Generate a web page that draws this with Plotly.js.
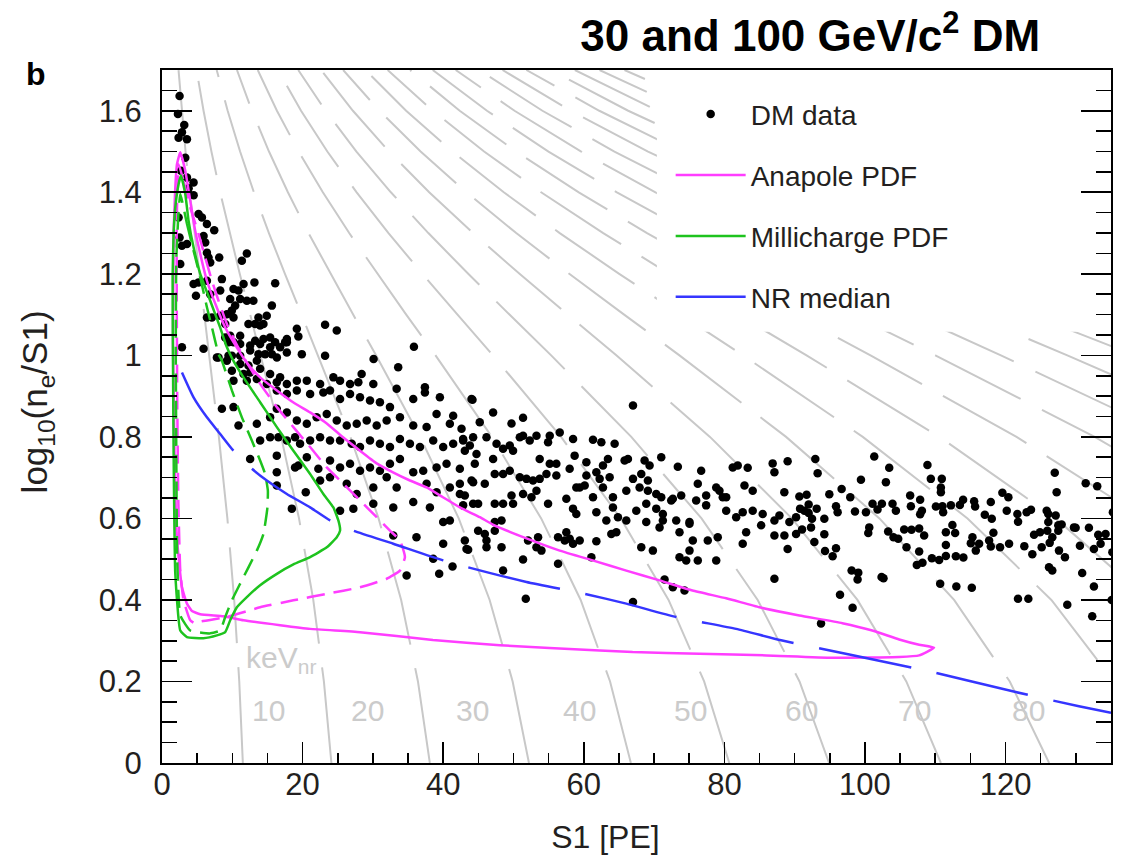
<!DOCTYPE html>
<html><head><meta charset="utf-8">
<script src="https://cdn.plot.ly/plotly-3.0.1.min.js"></script>
<style>html,body{margin:0;padding:0;background:#fff;}#plot{width:1133px;height:858px;}</style>
</head><body><div id="plot"></div>
<script>
// ---- DM data points (S1 [PE], log10(ne/S1)) ----
const dmS1 = [
2.5,2.27,3.17,2.84,2.36,3.55,3.31,2.7,3.55,4.49,
3.79,4.5,2.36,5.2,5.68,6.39,7.43,2.5,3.55,2.84,
5.91,6.15,6.39,6.62,6.86,8.14,12.07,11.36,2.6,4.49,
5.2,6.39,8.52,13.15,16.1,4.83,6.86,8.28,10.17,10.88,
11.6,12.07,13.0,11.12,9.7,10.41,9.94,9.23,6.39,7.1,
8.28,10.17,9.0,15.63,14.9,13.72,12.3,13.25,13.96,14.43,
23.2,24.86,19.18,19.4,17.76,17.51,8.99,9.7,11.12,10.17,
13.25,14.43,15.38,16.09,16.8,19.89,23.2,30.1,35.84,2.84,
5.91,7.81,9.46,11.12,12.54,13.72,14.67,15.63,16.34,9.46,
11.12,12.54,13.96,15.38,17.76,8.04,9.23,9.94,11.12,12.3,
13.49,17.76,28.4,33.6,9.94,11.6,12.54,13.96,15.38,16.8,
10.17,12.07,13.49,14.91,16.33,17.76,19.18,20.6,22.49,24.38,
25.33,26.75,27.93,30.06,33.38,37.4,16.33,17.76,19.18,21.07,
22.95,23.9,25.33,26.75,28.17,29.59,31.0,32.43,35.74,37.4,
39.53,41.42,44.03,8.52,10.17,10.88,13.49,15.38,16.33,17.76,
19.18,20.6,22.0,23.44,24.86,26.28,27.7,29.12,30.54,31.96,
33.85,35.74,37.64,39.06,40.95,42.61,13.96,15.38,16.56,17.76,
18.93,19.64,21.07,22.49,23.9,25.33,26.99,28.17,29.59,31.0,
32.43,33.85,35.27,36.69,38.58,40.0,41.42,42.84,44.26,12.54,
16.33,18.93,19.4,20.6,22.24,23.9,25.33,26.75,28.17,29.59,
31.0,32.43,33.85,35.74,37.16,39.06,40.48,42.37,44.5,16.33,
20.45,22.49,23.9,26.28,27.7,30.06,31.96,33.38,37.64,39.06,
40.95,42.37,44.03,18.47,25.33,27.22,30.06,32.9,35.74,38.11,
40.0,40.95,42.84,44.26,16.33,32.9,34.8,36.2,38.58,40.0,
41.33,39.43,43.08,43.32,44.17,47.1,49.72,51.36,67.0,45.2,
42.84,46.16,47.59,49.47,50.9,51.36,52.31,53.27,55.16,54.92,
56.58,58.48,61.31,62.5,64.39,43.08,43.79,44.74,47.1,48.52,
49.94,53.73,55.16,56.1,57.99,58.7,60.37,62.73,63.44,65.81,
66.28,68.65,69.36,71.02,73.38,76.7,81.19,81.9,83.32,86.87,
89.0,42.37,44.26,45.92,47.34,48.52,49.47,50.9,51.85,52.78,
53.73,54.69,56.1,58.94,60.13,60.37,61.79,62.26,63.68,62.73,
64.15,66.05,67.0,68.18,69.12,67.94,69.12,70.31,71.02,72.67,
73.86,76.22,77.41,78.84,79.3,80.26,82.86,84.03,87.12,88.53,
43.08,44.97,47.34,48.52,49.72,49.94,51.36,53.27,52.56,54.92,
57.52,58.47,58.94,59.42,61.31,61.79,63.21,64.15,64.86,66.05,
67.47,68.89,70.31,71.25,72.44,71.25,73.15,75.04,75.99,77.41,
79.77,80.26,81.68,82.61,84.03,85.45,87.12,87.83,90.2,89.25,
43.55,44.97,45.92,46.16,46.16,47.34,47.34,48.3,48.3,52.07,
53.5,53.27,53.98,56.34,57.52,57.29,58.0,58.47,59.42,61.79,
61.08,63.92,64.63,68.18,69.83,68.89,70.78,73.62,75.04,75.51,
77.64,79.06,78.84,75.04,73.62,74.57,76.22,82.61,83.1,85.23,
87.12,88.54,89.0,90.2,48.52,56.34,51.36,51.75,67.0,71.49,
72.67,74.33,87.12,92.94,93.27,101.32,103.45,99.43,102.98,108.89,
109.37,110.93,110.8,110.8,119.55,120.4,127.0,127.27,131.4,133.04,
90.67,91.7,94.93,96.68,97.91,90.77,91.38,91.99,91.99,93.13,
92.47,94.22,95.88,96.11,98.58,100.14,101.08,101.79,102.41,103.92,
104.4,106.43,106.53,107.85,108.1,107.85,110.09,111.02,111.12,112.22,
113.5,113.96,115.53,115.67,117.05,117.9,118.04,120.17,121.68,121.78,
123.0,123.62,125.85,126.08,127.13,126.08,127.98,129.73,91.05,92.33,
92.8,94.22,94.32,95.4,95.88,100.47,100.61,103.3,104.06,104.73,
105.58,106.62,107.71,108.42,105.91,107.71,107.38,108.18,109.52,110.55,
111.51,112.44,112.83,111.51,111.51,112.93,114.0,115.06,115.29,115.77,
116.24,117.66,118.27,117.9,119.22,120.5,122.67,123.81,124.05,124.9,
125.14,125.94,126.28,126.65,127.5,126.18,126.65,127.6,128.45,127.5,
129.97,130.58,131.86,132.57,133.18,133.52,134.23,130.9,132.57,132.33,
128.78,96.45,98.24,98.1,99.05,98.95,102.36,102.64,110.7,113.0,
115.2,121.77,123.24,93.75,135.27,135.2,135.1
];
const dmLogNe = [
1.636,1.592,1.565,1.547,1.534,1.530,1.485,1.453,1.436,1.424,
1.41,1.393,1.338,1.347,1.338,1.322,1.307,1.289,1.273,1.269,
1.293,1.277,1.252,1.240,1.228,1.240,1.25,1.232,1.224,1.175,
1.179,1.183,1.187,1.179,1.177,1.146,1.150,1.159,1.163,1.159,
1.175,1.134,1.134,1.138,1.138,1.122,1.110,1.101,1.093,1.093,
1.097,1.093,1.077,1.122,1.097,1.093,1.077,1.077,1.073,1.077,
1.075,1.061,1.065,1.046,1.040,1.032,1.044,1.048,1.048,1.032,
1.036,1.040,1.044,1.032,1.020,1.003,0.999,0.991,1.021,1.020,
1.016,0.995,0.999,0.999,1.012,1.003,1.003,1.003,0.995,1.032,
1.028,1.024,1.028,1.020,1.032,0.995,0.987,0.999,0.979,0.975,
0.987,1.007,0.954,0.971,0.962,0.954,0.958,0.967,0.954,0.946,
0.938,0.938,0.942,0.930,0.934,0.930,0.938,0.938,0.930,0.946,
0.938,0.930,0.934,0.930,0.918,0.922,0.914,0.905,0.914,0.905,
0.909,0.914,0.893,0.905,0.897,0.889,0.885,0.873,0.893,0.909,
0.897,0.852,0.893,0.869,0.873,0.828,0.832,0.848,0.869,0.860,
0.840,0.832,0.848,0.856,0.840,0.828,0.832,0.840,0.828,0.840,
0.848,0.828,0.824,0.856,0.832,0.820,0.791,0.799,0.799,0.791,
0.799,0.783,0.791,0.799,0.791,0.791,0.783,0.775,0.791,0.783,
0.775,0.795,0.783,0.775,0.791,0.775,0.783,0.791,0.799,0.746,
0.754,0.725,0.730,0.750,0.722,0.742,0.725,0.734,0.717,0.725,
0.717,0.734,0.746,0.713,0.717,0.725,0.734,0.722,0.734,0.681,
0.664,0.693,0.701,0.685,0.660,0.676,0.701,0.676,0.685,0.664,
0.676,0.660,0.693,0.624,0.619,0.624,0.636,0.627,0.640,0.627,
0.591,0.595,0.632,0.636,0.713,0.558,0.460,0.554,0.501,0.538,
0.482,0.464,0.546,0.525,0.891,0.860,0.833,0.847,0.877,0.836,
0.795,0.799,0.783,0.779,0.799,0.803,0.791,0.803,0.803,0.787,
0.811,0.795,0.793,0.787,0.783,0.766,0.779,0.758,0.746,0.771,
0.766,0.746,0.734,0.734,0.722,0.754,0.738,0.730,0.746,0.742,
0.746,0.742,0.730,0.750,0.727,0.717,0.725,0.730,0.724,0.735,
0.740,0.685,0.689,0.685,0.709,0.709,0.717,0.701,0.697,0.693,
0.697,0.709,0.705,0.676,0.681,0.705,0.713,0.697,0.701,0.676,
0.652,0.668,0.697,0.709,0.693,0.676,0.668,0.660,0.652,0.648,
0.656,0.685,0.656,0.676,0.668,0.652,0.681,0.668,0.713,0.664,
0.656,0.636,0.636,0.636,0.656,0.636,0.660,0.668,0.652,0.636,
0.648,0.624,0.611,0.676,0.652,0.615,0.595,0.627,0.603,0.595,
0.619,0.636,0.624,0.611,0.644,0.595,0.595,0.591,0.644,0.632,
0.652,0.619,0.603,0.615,0.619,0.611,0.595,0.607,0.603,0.591,
0.523,0.570,0.562,0.546,0.529,0.591,0.570,0.595,0.529,0.546,
0.554,0.529,0.521,0.554,0.566,0.546,0.550,0.538,0.546,0.544,
0.505,0.562,0.566,0.529,0.521,0.591,0.578,0.566,0.587,0.546,
0.546,0.554,0.497,0.521,0.505,0.497,0.497,0.538,0.566,0.583,
0.558,0.558,0.525,0.562,0.472,0.489,0.499,0.403,0.395,0.450,
0.431,0.423,0.452,0.746,0.711,0.752,0.724,0.695,0.689,0.731,
0.697,0.697,0.676,0.664,0.663,0.652,0.712,0.664,0.686,0.679,
0.654,0.658,0.659,0.672,0.652,0.624,0.619,0.634,0.613,0.624,
0.599,0.599,0.630,0.615,0.617,0.615,0.636,0.622,0.636,0.636,
0.619,0.656,0.630,0.646,0.619,0.610,0.629,0.630,0.615,0.632,
0.633,0.646,0.642,0.629,0.609,0.640,0.599,0.619,0.611,0.592,
0.615,0.621,0.619,0.611,0.607,0.591,0.585,0.578,0.573,0.578,
0.542,0.561,0.520,0.507,0.527,0.564,0.578,0.568,0.554,0.550,
0.573,0.572,0.575,0.558,0.529,0.519,0.486,0.491,0.502,0.498,
0.566,0.584,0.564,0.535,0.508,0.507,0.504,0.539,0.554,0.521,
0.538,0.546,0.565,0.531,0.529,0.538,0.532,0.512,0.560,0.566,
0.529,0.570,0.540,0.554,0.570,0.480,0.472,0.521,0.505,0.583,
0.577,0.533,0.577,0.525,0.560,0.538,0.562,0.466,0.433,0.360,
0.388,0.413,0.381,0.472,0.467,0.450,0.456,0.453,0.440,0.433,
0.430,0.403,0.403,0.342,0.615,0.517,0.400
];

// ---- Anapole PDF contours ----
const anapoleOuterS1 = [2.60,3.31,4.02,4.73,5.44,6.39,7.57,9.0,10.65,12.07,13.96,16.34,18.65,21.07,23.44,25.75,28.17,30.54,32.86,35.27,37.64,39.96,42.37,45.21,47.06,51.85,56.58,61.26,66.05,70.78,75.47,80.26,84.99,90.67,96.78,101.04,104.87,107.71,109.84,107.71,104.87,95.35,85.98,76.46,66.95,62.26,48.05,38.54,28.17,21.07,16.8,11.59,8.75,5.44,4.26,3.55,2.84,2.36,2.03,1.89,1.75,1.65,1.56,1.61,1.65,1.89,2.13,2.60];
const anapoleOuterLog = [1.498,1.453,1.379,1.305,1.249,1.183,1.127,1.068,1.019,0.982,0.946,0.914,0.885,0.860,0.833,0.799,0.766,0.735,0.713,0.693,0.676,0.652,0.627,0.603,0.585,0.551,0.521,0.497,0.472,0.448,0.423,0.404,0.382,0.362,0.343,0.325,0.303,0.290,0.283,0.264,0.260,0.258,0.264,0.268,0.272,0.276,0.289,0.302,0.321,0.329,0.338,0.350,0.360,0.365,0.373,0.391,0.431,0.505,0.578,0.668,0.791,0.914,1.036,1.183,1.298,1.412,1.469,1.498];
const anapoleInnerS1 = [2.36,3.07,4.02,5.2,6.15,7.1,8.04,9.23,10.55,12.07,13.96,16.34,18.69,21.07,23.44,25.8,28.17,30.54,32.43,33.85,34.56,33.85,31.96,28.17,23.44,18.69,13.96,9.23,5.44,4.73,4.02,3.07,2.6,2.32,2.17,2.1,2.1,2.36];
const anapoleInnerLog = [1.469,1.428,1.363,1.298,1.240,1.183,1.134,1.077,1.029,0.982,0.930,0.873,0.824,0.775,0.725,0.685,0.644,0.603,0.570,0.546,0.505,0.472,0.452,0.431,0.415,0.399,0.382,0.358,0.347,0.342,0.350,0.399,0.472,0.644,0.889,1.134,1.330,1.469];

// ---- Millicharge PDF contours ----
const millichargeOuterS1 = [2.70,3.31,3.78,4.49,5.44,6.86,8.28,9.13,9.99,11.59,13.96,16.34,18.69,21.07,22.95,24.38,25.09,25.33,24.86,23.44,21.07,18.69,16.34,13.96,12.07,10.65,9.7,8.99,7.81,5.87,3.55,2.6,1.89,1.65,1.56,1.51,1.65,1.89,2.36,2.70];
const millichargeOuterLog = [1.441,1.396,1.330,1.265,1.200,1.134,1.068,1.024,0.992,0.946,0.885,0.824,0.766,0.709,0.660,0.627,0.595,0.570,0.554,0.529,0.505,0.487,0.464,0.436,0.407,0.382,0.350,0.321,0.313,0.306,0.309,0.325,0.465,0.766,0.987,1.191,1.298,1.363,1.420,1.441];
const millichargeInnerS1 = [2.6,3.55,4.49,5.44,6.39,7.1,8.04,8.52,9.94,11.36,12.78,13.96,14.67,15.06,15.0,14.43,13.49,12.3,11.12,9.94,8.99,8.28,6.86,4.02,2.6,2.17,2.03,1.96,2.03,2.32,2.6];
const millichargeInnerLog = [1.396,1.323,1.257,1.191,1.118,1.069,1.003,0.987,0.914,0.848,0.791,0.742,0.709,0.668,0.627,0.562,0.521,0.480,0.440,0.399,0.358,0.325,0.318,0.325,0.362,0.497,0.766,1.011,1.232,1.342,1.396];

// ---- NR median ----
const nrMedianS1 = [2.84,4.49,6.39,8.28,10.17,12.78,14.91,17.76,21.07,23.91,27.22,32.9,40.0,43.55,51.85,60.13,66.05,73.15,81.68,88.07,97.77,109.6,121.45,130.44,135];
const nrMedianLog = [0.958,0.897,0.848,0.807,0.766,0.722,0.693,0.660,0.627,0.595,0.570,0.538,0.497,0.480,0.444,0.415,0.391,0.358,0.329,0.301,0.266,0.223,0.174,0.139,0.123];

// ---- keVnr energy contours (S1 read at each log10(ne/S1) level) ----
const energyLineLog = [0, 0.2, 0.4, 0.6, 0.8, 1.0, 1.1, 1.2, 1.3, 1.4, 1.5, 1.6, 1.7];
const energyLineS1 = [
[11.5,10.99,10.27,9.30,8.09,6.71,5.99,5.28,4.59,3.95,3.35,2.82,2.35],
[24.1,23.03,21.52,19.49,16.95,14.06,12.55,11.06,9.62,8.27,7.03,5.91,4.92],
[38.1,36.41,34.02,30.81,26.8,22.22,19.85,17.49,15.21,13.07,11.11,9.34,7.78],
[52.2,49.88,46.61,42.21,36.72,30.45,27.19,23.96,20.84,17.91,15.22,12.79,10.66],
[66.7,63.74,59.56,53.94,46.92,38.91,34.74,30.62,26.63,22.88,19.44,16.35,13.62],
[80.7,77.12,72.06,65.26,56.77,47.07,42.04,37.04,32.22,27.69,23.52,19.78,16.48],
[94.9,90.69,84.74,76.75,66.76,55.36,49.43,43.56,37.89,32.56,27.66,23.26,19.38],
[110.8,105.88,98.93,89.6,77.95,64.63,57.72,50.86,44.24,38.01,32.3,27.16,22.63],
[126.2,120.6,112.68,102.06,88.78,73.61,65.74,57.93,50.39,43.3,36.79,30.93,25.77],
[141.7,135.41,126.52,114.59,99.69,82.65,73.81,65.04,56.58,48.62,41.31,34.73,28.94],
[157.2,150.22,140.36,127.13,110.59,91.69,81.88,72.15,62.77,53.93,45.82,38.53,32.1],
[172.8,165.13,154.29,139.74,121.56,100.79,90.01,79.32,69.0,59.29,50.37,42.35,35.29],
[188.6,180.23,168.4,152.52,132.68,110.01,98.24,86.57,75.31,64.71,54.98,46.23,38.51],
[204.6,195.52,182.69,165.46,143.94,119.34,106.58,93.91,81.7,70.2,59.64,50.15,41.78],
[220.8,211.0,197.15,178.56,155.33,128.79,115.01,101.35,88.17,75.76,64.36,54.12,45.09],
[237.2,226.67,211.8,191.82,166.87,138.36,123.56,108.87,94.71,81.38,69.14,58.14,48.44],
[253.8,242.53,226.62,205.25,178.55,148.04,132.2,116.49,101.34,87.08,73.98,62.21,51.83],
[270.6,258.59,241.62,218.83,190.37,157.84,140.96,124.21,108.05,92.84,78.88,66.32,55.26],
[287.6,274.83,256.8,232.58,202.33,167.76,149.81,132.01,114.84,98.68,83.84,70.49,58.73],
[304.8,291.27,272.16,246.49,214.43,177.79,158.77,139.9,121.71,104.58,88.85,74.71,62.24],
[322.2,307.89,287.69,260.56,226.67,187.94,167.83,147.89,128.65,110.55,93.92,78.97,65.79],
[339.8,324.71,303.41,274.8,239.05,198.21,177.0,155.97,135.68,116.59,99.05,83.28,69.39]
];
const energyLabels = ['10','20','30','40','50','60','70','80'];
const energyLabelS1 = [15.1, 29.2, 44.1, 59.4, 75.2, 91.0, 107.0, 123.3];
const energyLabelLog = 0.13;

// legend box area (white background behind the legend, in axis units)
const legendBoxS1 = [70.4, 136];
const legendBoxLog = [1.058, 1.72];

// ---- styling ----
const FONT = 'Liberation Sans, Arial, Helvetica, sans-serif';
const TXT = '#231f20';
const GREY = '#c8c8c8';
const MAGENTA = '#ff3dff';
const GREEN = '#1ec31e';
const BLUE = '#3535ff';

const traces = [];
energyLineS1.forEach(xs => {
  traces.push({type:'scatter', mode:'lines', x: xs, y: energyLineLog,
    line:{color:GREY, width:2, dash:'96px,24px'}, showlegend:false});
});
// white legend background, drawn over the grey contours but under the axes' ticks
traces.push({type:'scatter', mode:'lines', fill:'toself', fillcolor:'rgb(255,255,255)',
  x:[legendBoxS1[0], legendBoxS1[1], legendBoxS1[1], legendBoxS1[0], legendBoxS1[0]],
  y:[legendBoxLog[0], legendBoxLog[0], legendBoxLog[1], legendBoxLog[1], legendBoxLog[0]],
  line:{width:0}, showlegend:false});
traces.push({type:'scatter', mode:'markers', name:'DM data', x: dmS1, y: dmLogNe,
  marker:{color:'#000', size:8.5}, legendgroup:'g1', legendrank:1});
traces.push({type:'scatter', mode:'lines', name:'Anapole PDF', x: anapoleOuterS1, y: anapoleOuterLog,
  line:{color:MAGENTA, width:2.5, shape:'spline', smoothing:0.4}, legendgroup:'g2', legendrank:2});
traces.push({type:'scatter', mode:'lines', name:'Anapole PDF (inner)', x: anapoleInnerS1, y: anapoleInnerLog,
  line:{color:MAGENTA, width:2.5, dash:'18px,9px', shape:'spline', smoothing:0.4}, showlegend:false});
traces.push({type:'scatter', mode:'lines', name:'Millicharge PDF', x: millichargeOuterS1, y: millichargeOuterLog,
  line:{color:GREEN, width:2.5, shape:'spline', smoothing:0.4}, legendgroup:'g3', legendrank:3});
traces.push({type:'scatter', mode:'lines', name:'Millicharge PDF (inner)', x: millichargeInnerS1, y: millichargeInnerLog,
  line:{color:GREEN, width:2.5, dash:'18px,9px', shape:'spline', smoothing:0.4}, showlegend:false});
traces.push({type:'scatter', mode:'lines', name:'NR median', x: nrMedianS1, y: nrMedianLog,
  line:{color:BLUE, width:2.5, dash:'94px,26px', shape:'spline', smoothing:0.5}, legendgroup:'g4', legendrank:4});

const annotations = energyLabels.map((t, i) => ({
  text: t, x: energyLabelS1[i], y: energyLabelLog, xref:'x', yref:'y',
  showarrow:false, xanchor:'center', yanchor:'middle',
  font:{family:FONT, size:30, color:'#cbcbcb'}
}));
annotations.push({text:'keV<sub>nr</sub>', x: 11.6, y: 0.255, xref:'x', yref:'y', showarrow:false,
  xanchor:'left', yanchor:'middle', font:{family:FONT, size:30, color:'#cbcbcb'}});
annotations.push({text:'<b>b</b>', x: (36 - 162) / 949, y: (762.7 - 74) / 692.7, xref:'paper', yref:'paper',
  showarrow:false, xanchor:'center', yanchor:'middle',
  font:{family:FONT, size:32, color:'#000'}});

const layout = {
  width:1133, height:858,
  margin:{l:162, r:22, t:70, b:95, pad:0},
  paper_bgcolor:'#fff', plot_bgcolor:'#fff',
  font:{family:FONT, color:TXT},
  title:{text:'<b>30 and 100 GeV/c<sup>2</sup> DM</b>', font:{family:FONT, size:44, color:'#000'},
    x:0.918, xanchor:'right', xref:'container', y:0.958, yanchor:'middle', yref:'container'},
  xaxis:{range:[0,135], showline:true, linecolor:'#000', linewidth:2, mirror:true,
    ticks:'inside', ticklen:21, tickwidth:1.6, tickcolor:'#000', dtick:20, tick0:0,
    minor:{dtick:5, ticks:'inside', ticklen:10, tickwidth:1.6, tickcolor:'#000', showgrid:false},
    showgrid:false, zeroline:false, ticklabelstandoff:-7,
    tickfont:{family:FONT, size:31, color:TXT},
    title:{text:'S1 [PE]&nbsp;&nbsp;&nbsp;&nbsp;&nbsp;&nbsp;&nbsp;', font:{family:FONT, size:32, color:TXT}, standoff:24}},
  yaxis:{range:[0,1.7], showline:true, linecolor:'#000', linewidth:2, mirror:'ticks',
    ticks:'inside', ticklen:30, tickwidth:1.6, tickcolor:'#000', dtick:0.2, tick0:0,
    minor:{dtick:0.05, ticks:'inside', ticklen:15, tickwidth:1.6, tickcolor:'#000', showgrid:false},
    showgrid:false, zeroline:false, ticklabelstandoff:12,
    tickfont:{family:FONT, size:31, color:TXT},
    title:{text:'&nbsp;&nbsp;&nbsp;log<sub>10</sub>(n<sub>e</sub>/S1)', font:{family:FONT, size:35, color:TXT}, standoff:40}},
  legend:{x:0.536, y:0.972, xanchor:'left', yanchor:'top', bgcolor:'rgba(0,0,0,0)',
    borderwidth:0, font:{family:FONT, size:28, color:TXT}, tracegroupgap:21.5,
    traceorder:'grouped', itemwidth:70},
  annotations: annotations,
  showlegend:true
};

Plotly.newPlot('plot', traces, layout, {displayModeBar:false, staticPlot:true});
</script>
</body></html>
